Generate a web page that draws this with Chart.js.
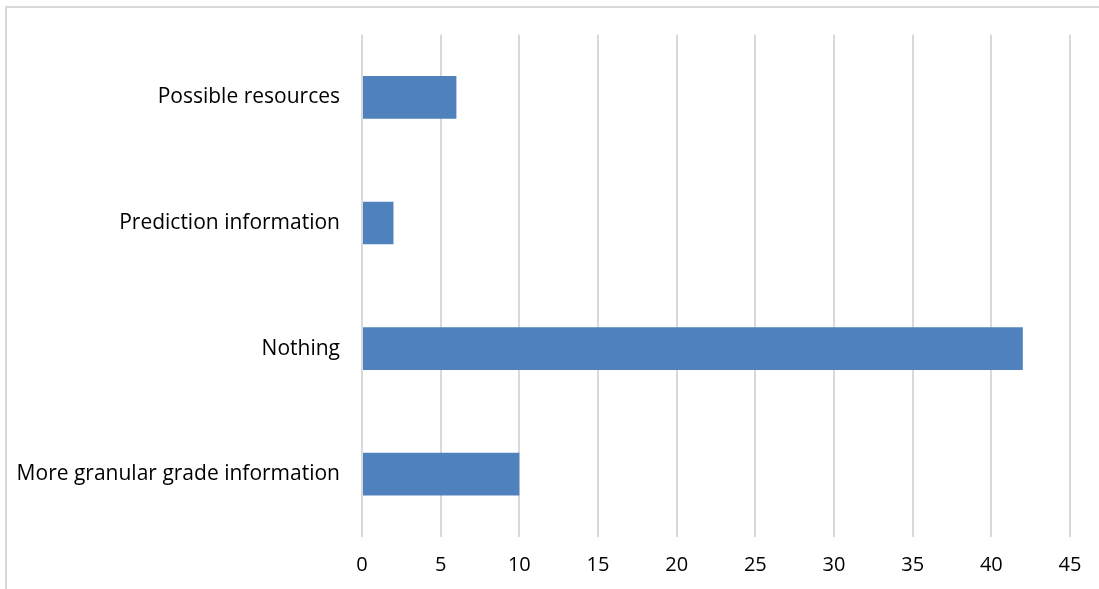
<!DOCTYPE html>
<html lang="en">
  <head>
    <meta charset="utf-8" />
    <title>Horizontal bar chart</title>
    <script src="https://cdn.jsdelivr.net/npm/chart.js/dist/chart.umd.min.js"></script>
    <style>
      * {
        margin: 0;
        padding: 0;
      }
      body {
        width: 1099px;
        height: 589px;
        overflow: hidden;
        background: #fff;
        position: relative;
      }
      .frame {
        position: absolute;
        left: 5px;
        top: 6px;
        width: 1200px;
        height: 700px;
        border: 2px solid #d9d9d9;
      }
      .chartBox {
        position: absolute;
        left: 0;
        top: 0;
        width: 1099px;
        height: 589px;
      }
    </style>
  </head>
  <body>
    <div class="frame"></div>
    <div class="chartBox">
      <canvas id="myChart"></canvas>
    </div>

    <script>
      const categories = [
        "Possible resources",
        "Prediction information",
        "Nothing",
        "More granular grade information",
      ];
      const counts = [6, 2, 42, 10];
      const xTicks = [0, 5, 10, 15, 20, 25, 30, 35, 40, 45];

      const fontFamily = "'Open Sans', sans-serif";

      const data = {
        labels: categories,
        datasets: [
          {
            data: counts,
            backgroundColor: "#4f81bd",
            borderWidth: 0,
            barPercentage: 0.34,
            categoryPercentage: 1,
          },
        ],
      };

      const config = {
        type: "bar",
        data,
        options: {
          indexAxis: "y",
          responsive: true,
          maintainAspectRatio: false,
          animation: false,
          layout: {
            padding: { top: 33, right: 29, bottom: 0, left: 0 },
          },
          plugins: {
            legend: { display: false },
            tooltip: { enabled: false },
          },
          scales: {
            x: {
              min: xTicks[0],
              max: xTicks[xTicks.length - 1],
              afterBuildTicks(scale) {
                scale.ticks = xTicks.map((v) => ({ value: v }));
              },
              afterFit(scale) {
                scale.height = 52;
              },
              grid: {
                color: "#d9d9d9",
                lineWidth: 2,
                drawTicks: false,
              },
              border: { display: false },
              ticks: {
                color: "#000",
                padding: 16,
                font: { family: fontFamily, size: 20 },
              },
            },
            y: {
              afterFit(scale) {
                scale.width = 362;
              },
              grid: { display: false, drawTicks: false },
              border: { display: false },
              ticks: {
                color: "#000",
                padding: 22,
                font: { family: fontFamily, size: 21 },
              },
            },
          },
        },
      };

      const myChart = new Chart(document.getElementById("myChart"), config);
    </script>
  </body>
</html>
